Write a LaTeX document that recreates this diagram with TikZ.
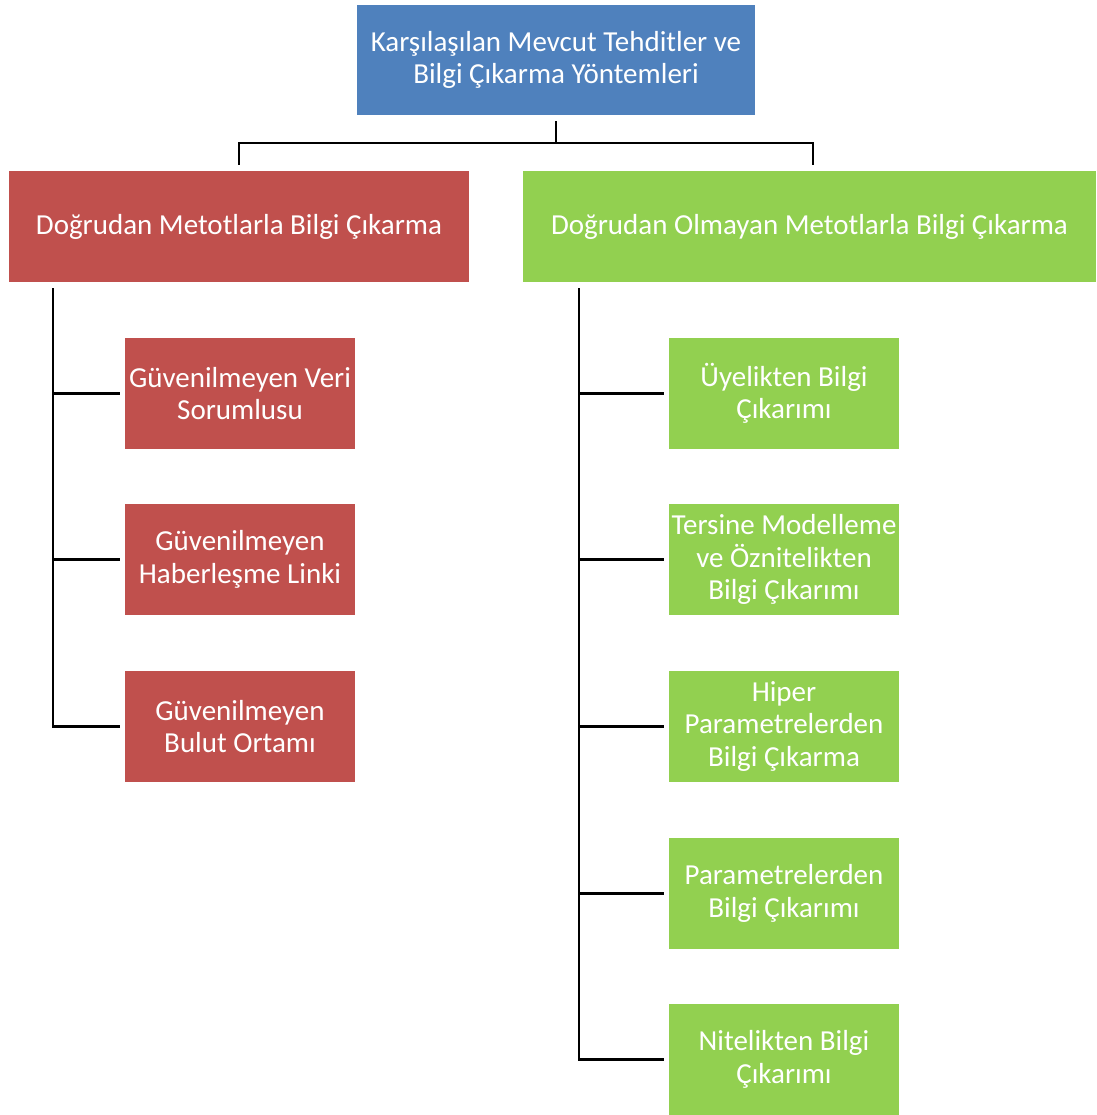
\documentclass[tikz,border=0pt]{standalone}
\usepackage{fontspec}
\setmainfont{Carlito}
\usepackage{tikz}
\definecolor{topblue}{HTML}{4F81BD}
\definecolor{dirred}{HTML}{C0504D}
\definecolor{indgreen}{HTML}{92D050}
\tikzstyle{box}=[inner sep=0pt, text=white, align=center, font=\fontsize{29}{32.5}\selectfont]
\tikzstyle{topbox}=[box, fill=topblue, minimum width=398pt, minimum height=110pt]
\tikzstyle{redbox}=[box, fill=dirred, minimum width=230pt, minimum height=111pt]
\tikzstyle{greenbox}=[box, fill=indgreen, minimum width=230pt, minimum height=111pt]
\tikzstyle{link}=[line width=2.4pt, draw=black]

\begin{document}
\begin{tikzpicture}[x=1pt, y=-1pt]
    \useasboundingbox (0,0) rectangle (1096,1115);
    \node[topbox] (T) at (556,60) {Karşılaşılan Mevcut Tehditler ve\\Bilgi Çıkarma Yöntemleri};
    \node[redbox, minimum width=460pt] (D) at (239,226.5) {Doğrudan Metotlarla Bilgi Çıkarma};
    \node[greenbox, minimum width=573pt] (O) at (809.5,226.5) {Doğrudan Olmayan Metotlarla Bilgi Çıkarma};
    \node[redbox] (d1) at (240,393.5) {Güvenilmeyen Veri\\Sorumlusu};
    \node[redbox] (d2) at (240,559.5) {Güvenilmeyen\\Haberleşme Linki};
    \node[redbox] (d3) at (240,726.5) {Güvenilmeyen\\Bulut Ortamı};
    \node[greenbox] (o1) at (784,393.5) {Üyelikten Bilgi\\Çıkarımı};
    \node[greenbox] (o2) at (784,559.5) {Tersine Modelleme\\ve Öznitelikten\\Bilgi Çıkarımı};
    \node[greenbox] (o3) at (784,726.5) {Hiper\\Parametrelerden\\Bilgi Çıkarma};
    \node[greenbox] (o4) at (784,893.5) {Parametrelerden\\Bilgi Çıkarımı};
    \node[greenbox] (o5) at (784,1059.5) {Nitelikten Bilgi\\Çıkarımı};
    \coordinate (bar) at (556,143);
    \coordinate (dt) at (53,288);
    \coordinate (ot) at (579,288);
    \draw[link] ([yshift=-6pt]T.south) -- (bar) -| ([yshift=6pt]D.north);
    \draw[link] (bar) -| ([xshift=3.5pt, yshift=6pt]O.north);
    \draw[link] (dt) |- ([xshift=-5pt]d3.west);
    \draw[link] (ot) |- ([xshift=-5pt]o5.west);
    \foreach \trunk/\to in
      {dt/d1, dt/d2, ot/o1, ot/o2, ot/o3, ot/o4}
    \draw[link] (\trunk |- \to.west) -- ([xshift=-5pt]\to.west);
\end{tikzpicture}
\end{document}
